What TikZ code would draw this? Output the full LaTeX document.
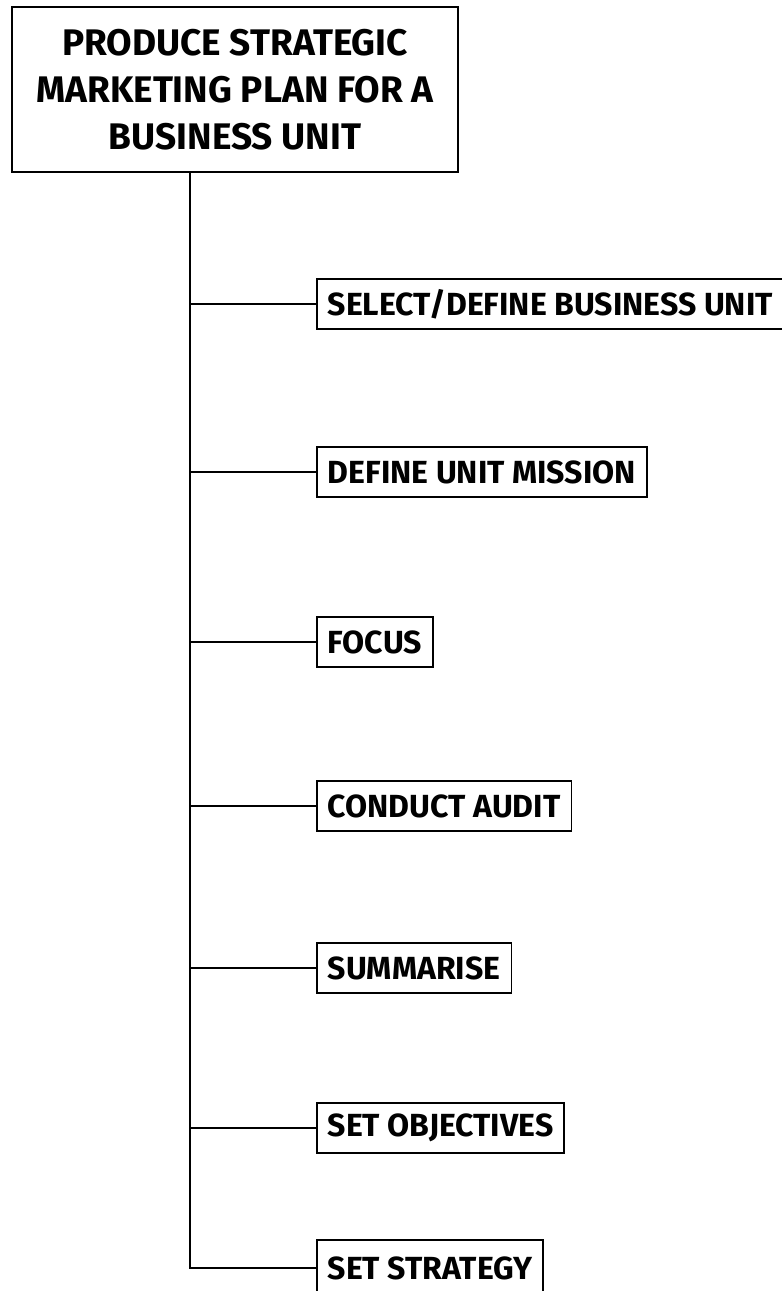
\documentclass[tikz,border=0pt]{standalone}
\usepackage{fontspec}
\setmainfont{Fira Sans}
\begin{document}
\begin{tikzpicture}[x=1pt,y=-1pt,
  conn/.style={line width=1.8pt, black},
  titlebox/.style={draw, line width=1.9pt, align=center, font=\bfseries\fontsize{37}{47}\selectfont,
     minimum width=446pt, minimum height=165pt, inner sep=0pt},
  stepbox/.style={draw, line width=1.7pt, anchor=west, font=\bfseries\fontsize{32}{36}\selectfont,
     minimum height=50pt, inner xsep=11pt, inner ysep=0pt}]
\useasboundingbox (0,0) rectangle (782,1291);
\node[titlebox] (top) at (235,89.5) {\raisebox{6pt}{\parbox{440pt}{\centering PRODUCE STRATEGIC\\MARKETING PLAN FOR A\\BUSINESS UNIT}}};
\node[stepbox] (n1) at (316,304) {SELECT/DEFINE BUSINESS UNIT\hspace{30pt}};
\node[stepbox] (n2) at (316,472) {DEFINE UNIT MISSION};
\node[stepbox] (n3) at (316,642) {FOCUS};
\node[stepbox] (n4) at (316,806) {CONDUCT AUDIT};
\node[stepbox] (n5) at (316,968) {SUMMARISE};
\node[stepbox] (n6) at (316,1128) {SET OBJECTIVES};
\node[stepbox, minimum height=56pt] (n7) at (316,1268) {SET STRATEGY};
\coordinate (trunk) at (190,0);
\draw[conn] (top.south -| trunk) |- (n7.west);
\foreach \i in {1,...,6}{\draw[conn] (n\i.west -| trunk) -- (n\i.west);}
\end{tikzpicture}
\end{document}
